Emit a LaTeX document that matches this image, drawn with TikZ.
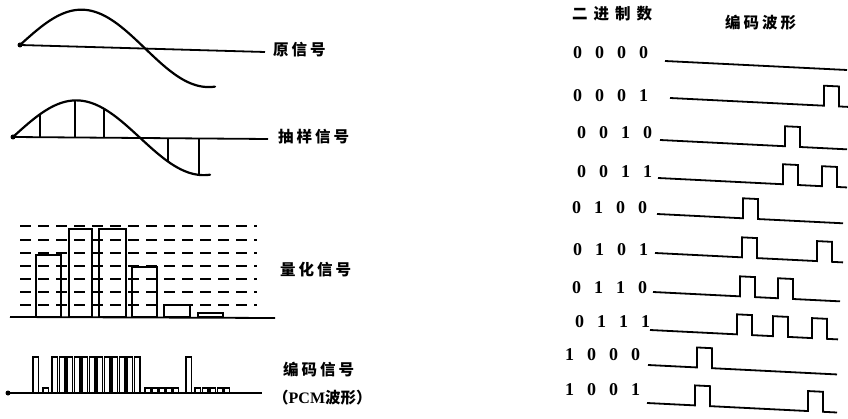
\documentclass[tikz,border=0pt]{standalone}
\usepackage{fontspec}
\newfontfamily\cjk{Noto Sans CJK SC}
\newfontfamily\digf{Liberation Serif}
\newcommand\spc{\hspace{3pt}}
\newcommand\wspc{\hspace{6pt}}
\newcommand\dsp{\hspace{13pt}}
\newcommand\wave[4]{\draw[wave] (#1,#2) \foreach \pp in {#4}{ -- (\pp,{#2+0.05*(\pp-#1)}) -- ++(0,-20) -- ++(15,0.75) -- ++(0,20)} -- (#3,{#2+0.05*(#3-#1)});}
\begin{document}
\begin{tikzpicture}[x=1pt,y=-1pt,
  curve/.style={line width=2.2pt, line join=round, line cap=round},
  base/.style={line width=1.8pt},
  thinl/.style={line width=1.5pt},
  lab/.style={font=\fontsize{15.5}{15.5}\selectfont\cjk\bfseries, anchor=west, inner sep=0pt},
  bin/.style={font=\fontsize{18}{18}\selectfont\digf\bfseries, anchor=west, inner sep=0pt},
  wave/.style={line width=1.8pt, line join=miter},
  dotn/.style={circle, fill, inner sep=0pt, minimum size=5pt}]
\useasboundingbox (0,0) rectangle (848,419);

% original signal
\node[dotn] (o0) at (20,45) {};
\coordinate (o1) at (265,52);
\draw[base] (o0.center) -- (o1);
\draw[curve] plot[domain=20:215, samples=80, smooth] (\x, {45+0.027*(\x-20) - 37*sin((\x-20)*1.44)});
\node[lab] (l1) at (273,50) {原\spc 信\spc 号};

% sampled signal
\node[dotn] (s0) at (13,137) {};
\coordinate (s1) at (268,139);
\draw[base] (s0.center) -- (s1);
\draw[curve] plot[domain=13:210, samples=80, smooth] (\x, {137+0.006*(\x-13) - 37*sin((\x-13)*1.4173)});
\foreach \xx in {40,75,104,168,199}
  \draw[thinl] (\xx,{137+0.006*(\xx-13)}) -- (\xx,{137+0.006*(\xx-13)-37*sin((\xx-13)*1.4173)});
\node[lab] (l2) at (278,137) {抽\spc 样\spc 信\spc 号};

% quantized signal
\foreach \yy in {226,240,253,266,279,292,305}
  \draw[base, dash pattern=on 11pt off 7pt] (20,\yy) -- (257,\yy);
\draw[base] (36,317) rectangle (61,255);
\draw[base] (69,317) rectangle (92,229);
\draw[base] (99,317) rectangle (126,229);
\draw[base] (132,317) rectangle (157,267);
\draw[base] (164,317) rectangle (190,305);
\draw[base] (198,317) rectangle (223,313);
\draw[base] (10,317) -- (275,318);
\node[lab] (l3) at (280,270) {量\spc 化\spc 信\spc 号};

% PCM
\node[dotn] (p0) at (8,393) {};
\draw[base] (p0.center) -- (262,393);
\foreach \xx in {33,52,59.5,...,136,186}
  \draw[thinl] (\xx,393) rectangle ++(5.5,-36);
\foreach \xx in {43,145,152,159,166,173,195,202.5,210,217.5,224}
  \draw[thinl] (\xx,393) rectangle ++(5.5,-5);
\node[lab] (l4) at (283,370) {编\spc 码\spc 信\spc 号};
\node[lab] (l5) at (273,398) {（{\fontsize{16}{16}\selectfont\digf\bfseries PCM}波形）};

% right panel
\node[lab] (t1) at (572,14) {二\wspc 进\wspc 制\wspc 数};
\node[lab] (t2) at (725,23) {编\spc 码\spc 波\spc 形};

\node[bin] (b0) at (573,53) {0\dsp 0\dsp 0\dsp 0};
\node[bin] (b1) at (573,96) {0\dsp 0\dsp 0\dsp 1};
\node[bin] (b2) at (577,133) {0\dsp 0\dsp 1\dsp 0};
\node[bin] (b3) at (577,172) {0\dsp 0\dsp 1\dsp 1};
\node[bin] (b4) at (572,208) {0\dsp 1\dsp 0\dsp 0};
\node[bin] (b5) at (573,250) {0\dsp 1\dsp 0\dsp 1};
\node[bin] (b6) at (572,288) {0\dsp 1\dsp 1\dsp 0};
\node[bin] (b7) at (575,322) {0\dsp 1\dsp 1\dsp 1};
\node[bin] (b8) at (565,355) {1\dsp 0\dsp 0\dsp 0};
\node[bin] (b9) at (565,390) {1\dsp 0\dsp 0\dsp 1};

\draw[wave] (665,61) -- (847,70);
\wave{670}{98}{848}{824}
\wave{660}{140}{847}{785}
\wave{658}{178}{847}{783,822}
\wave{657}{214}{843}{743}
\wave{655}{253}{843}{742,817}
\wave{653}{292}{840}{740,778}
\wave{650}{330}{838}{737,773,812}
\wave{648}{365}{837}{697}
\wave{647}{403}{837}{695,808}
\end{tikzpicture}
\end{document}
